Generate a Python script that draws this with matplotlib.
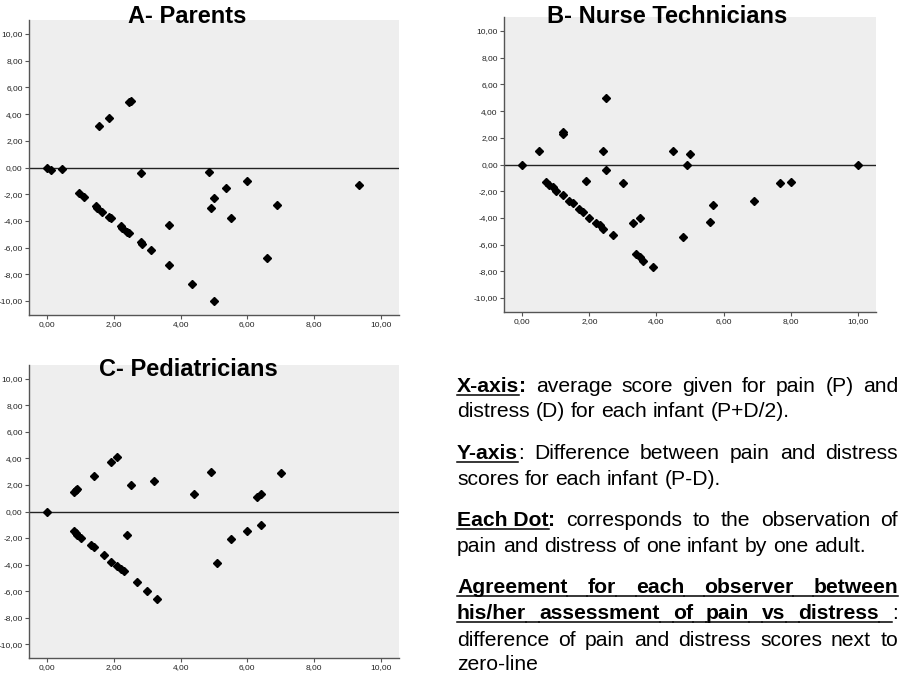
import numpy as np
import matplotlib
matplotlib.use("Agg")
import matplotlib.pyplot as plt
from matplotlib.lines import Line2D
from matplotlib.ticker import FuncFormatter

plt.rcParams['font.family'] = ['Liberation Sans', 'DejaVu Sans']

# mean score (P+D)/2 vs difference P-D, one list pair per observer group
parents_x = [0, 0.1, 0.45, 0.95, 1.1, 1.45, 1.5, 1.65, 1.85, 1.9, 2.2, 2.25, 2.4, 2.45, 2.8, 2.85,
             3.1, 3.65, 4.35, 5.0, 1.55, 1.85, 2.45, 2.5, 2.8, 3.65, 4.85, 4.9, 5.0, 5.35, 5.5,
             6.0, 6.6, 6.9, 9.35]
parents_y = [0, -0.2, -0.1, -1.9, -2.2, -2.9, -3.0, -3.3, -3.7, -3.8, -4.4, -4.5, -4.8, -4.9, -5.6, -5.7,
             -6.2, -7.3, -8.7, -10.0, 3.1, 3.7, 4.9, 5.0, -0.4, -4.3, -0.3, -3.0, -2.3, -1.5, -3.8,
             -1.0, -6.8, -2.8, -1.3]

nurses_x = [0, 0.5, 1.2, 1.2, 0.7, 0.8, 0.9, 1.0, 1.2, 1.4, 1.5, 1.7, 1.8, 2.0, 2.2, 2.3, 2.4, 2.7,
            3.4, 3.5, 3.6, 3.9, 1.9, 2.4, 2.5, 2.5, 3.0, 3.3, 3.5, 4.5, 4.9, 5.0, 4.8, 5.6, 5.7,
            6.9, 7.7, 8.0, 10.0]
nurses_y = [0, 1.0, 2.4, 2.3, -1.3, -1.55, -1.7, -1.95, -2.3, -2.75, -2.9, -3.3, -3.55, -4.0, -4.35,
            -4.5, -4.8, -5.3, -6.7, -6.95, -7.2, -7.7, -1.2, 1.0, 5.0, -0.4, -1.4, -4.4, -4.0, 1.0,
            0.0, 0.8, -5.4, -4.3, -3.0, -2.7, -1.4, -1.3, 0.0]

pedi_x = [0, 0.8, 0.85, 0.9, 1.4, 1.9, 2.1, 2.5, 3.2, 4.4, 4.9, 6.3, 6.4, 7.0, 0.8, 0.85, 0.9, 1.0,
          1.3, 1.4, 1.7, 1.9, 2.1, 2.2, 2.3, 2.4, 2.7, 3.0, 3.3, 5.1, 5.5, 6.0, 6.4]
pedi_y = [0, 1.5, 1.6, 1.7, 2.7, 3.7, 4.1, 2.0, 2.3, 1.3, 3.0, 1.1, 1.3, 2.9, -1.5, -1.6, -1.8, -2.0,
          -2.5, -2.7, -3.3, -3.8, -4.1, -4.3, -4.5, -1.8, -5.3, -6.0, -6.6, -3.9, -2.1, -1.5, -1.0]

titles = ["A- Parents", "B- Nurse Technicians", "C- Pediatricians"]

W, H = 910, 678
fig = plt.figure(figsize=(9.1, 6.78), dpi=100)

fmt = FuncFormatter(lambda v, p: f"{v:.2f}".replace('.', ','))


def panel(rect, xs, ys):
    l, t, r, b = rect
    ax = fig.add_axes([l / W, 1 - b / H, (r - l) / W, (b - t) / H])
    ax.set_facecolor('#eeeeee')
    ax.axhline(0, color='#222222', lw=1.0, zorder=1)
    ax.plot(xs, ys, ls='none', marker='D', ms=3.7, color='black', zorder=3)
    ax.set_xlim(-0.55, 10.55)
    ax.set_ylim(-11.05, 11.05)
    ax.set_xticks(np.arange(0, 11, 2))
    ax.set_yticks(np.arange(-10, 11, 2))
    ax.xaxis.set_major_formatter(fmt)
    ax.yaxis.set_major_formatter(fmt)
    for s in ['top', 'right']:
        ax.spines[s].set_visible(False)
    for s in ['left', 'bottom']:
        ax.spines[s].set_color('#555555')
        ax.spines[s].set_linewidth(1.0)
    ax.tick_params(length=3, width=0.8, labelsize=6, pad=1.5, colors='#555555', labelcolor='#222222')
    return ax


panel((29, 20, 399, 315), parents_x, parents_y)
panel((504, 17, 876, 312), nurses_x, nurses_y)
panel((29, 365, 399, 658), pedi_x, pedi_y)

for txt, (cx, by) in zip(titles, [(187, 23), (667, 23), (188, 376)]):
    fig.text(cx / W, 1 - by / H, txt, fontsize=17, fontweight='bold', ha='center', va='baseline')

# explanatory text block, justified by hand
FS = 15.2
L, R = 457, 898
renderer = fig.canvas.get_renderer()


def width(txt, bold):
    t = fig.text(0, 0, txt, fontsize=FS, fontweight='bold' if bold else 'normal')
    w = t.get_window_extent(renderer).width
    t.remove()
    return w


def words(s, bold=False, ul=False):
    return [[(w, bold, ul)] for w in s.split()]


lines = [
    (392, [[("X-axis", True, True), (":", True, False)]] + words("average score given for pain (P) and"), True, False),
    (417, words("distress (D) for each infant (P+D/2)."), False, False),
    (459, [[("Y-axis", True, True), (":", False, False)]] + words("Difference between pain and distress"), True, False),
    (485, words("scores for each infant (P-D)."), False, False),
    (526, [[("Each Dot", True, True), (":", True, False)]] + words("corresponds to the observation of"), True, False),
    (552, words("pain and distress of one infant by one adult."), False, False),
    (593, words("Agreement  for each observer between", True, True), True, True),
    (619, words("his/her assessment of pain vs distress", True, True) + [[(":", False, False)]], True, True),
    (646, words("difference of pain and distress scores next to"), True, False),
    (670, words("zero-line"), False, False),
]

space = width("a a", False) - width("aa", False)
for y, wl, justify, ul_gaps in lines:
    ws = [sum(width(p[0], p[1]) for p in w) for w in wl]
    gap = (R - L - sum(ws)) / (len(wl) - 1) if justify and len(wl) > 1 else space
    x = L
    for i, w in enumerate(wl):
        for txt, bold, ul in w:
            pw = width(txt, bold)
            fig.text(x / W, 1 - y / H, txt, fontsize=FS, fontweight='bold' if bold else 'normal',
                     ha='left', va='baseline')
            if ul:
                fig.add_artist(Line2D([x / W, (x + pw) / W], [1 - (y + 3) / H] * 2, color='black', lw=1.1))
            x += pw
        if ul_gaps and i < len(wl) - 1:
            fig.add_artist(Line2D([x / W, (x + gap) / W], [1 - (y + 3) / H] * 2, color='black', lw=1.1))
        x += gap

fig.savefig("out.png", dpi=100)
